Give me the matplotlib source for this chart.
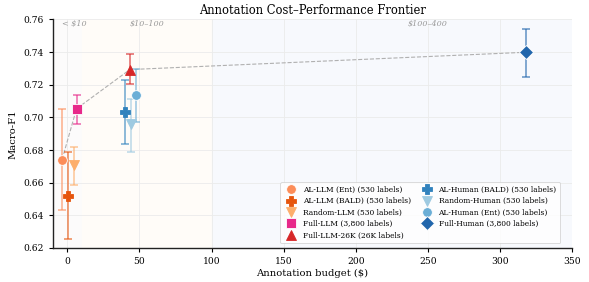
import matplotlib.pyplot as plt

plt.rcParams['font.family'] = 'DejaVu Serif'

# budget ($) as plotted, mean Macro-F1 and error bar ends
names = ['AL-LLM (Ent) (530 labels)', 'AL-LLM (BALD) (530 labels)', 'Random-LLM (530 labels)',
         'Full-LLM (3,800 labels)', 'Full-LLM-26K (26K labels)',
         'AL-Human (BALD) (530 labels)', 'Random-Human (530 labels)',
         'AL-Human (Ent) (530 labels)', 'Full-Human (3,800 labels)']
budget = [-3.7, 0.5, 4.6, 6.3, 43.3, 40.0, 44.0, 47.9, 318.0]
f1 = [0.6742, 0.652, 0.6711, 0.7053, 0.7293, 0.7031, 0.6957, 0.7135, 0.7399]
f1_low = [0.6435, 0.6253, 0.6587, 0.6961, 0.7207, 0.6838, 0.6785, 0.6973, 0.7250]
f1_high = [0.7050, 0.6790, 0.6818, 0.7139, 0.7389, 0.7227, 0.7115, 0.7299, 0.7543]
markers = ['o', 'P', 'v', 's', '^', 'P', 'v', 'o', 'D']
colors = ['#fc8d59', '#e6550d', '#fdae6b', '#e7298a', '#d62728',
          '#3182bd', '#9ecae1', '#6baed6', '#2166ac']

frontier = [0, 3, 4, 8]

fig = plt.figure(figsize=(5.89, 2.82), dpi=100)
ax = fig.add_axes([0.09, 0.1206, 0.881, 0.8104])

# cost bands
ax.axvspan(-10, 10, color='#fcfbfb', zorder=0)
ax.axvspan(10, 100, color='#fffcf8', zorder=0)
ax.axvspan(100, 400, color='#f7f9fd', zorder=0)
for xc, txt in [(5, '< $10'), (55, '$10\u2013100'), (250, '$100\u2013400')]:
    ax.text(xc, 0.7575, txt, ha='center', va='center', fontsize=5.8,
            style='italic', color='#999999')

ax.plot([budget[i] for i in frontier], [f1[i] for i in frontier],
        ls='--', color='#b0b0b0', lw=0.8, zorder=2)

for i in range(len(names)):
    err = [[f1[i] - f1_low[i]], [f1_high[i] - f1[i]]]
    ax.errorbar(budget[i], f1[i], yerr=err, fmt='none', ecolor=colors[i],
                alpha=0.7, capsize=3, elinewidth=1.1, capthick=1.1, zorder=3)
    ax.plot(budget[i], f1[i], marker=markers[i], color=colors[i], ls='none',
            markersize=7, label=names[i], zorder=4,
            markeredgecolor='white' if markers[i] in ('o', 's', 'D') else colors[i],
            markeredgewidth=0.6)

ax.set_xlim(-10, 350)
ax.set_ylim(0.62, 0.76)
ax.set_yticks([0.62, 0.64, 0.66, 0.68, 0.70, 0.72, 0.74, 0.76])
ax.yaxis.set_major_formatter(plt.FormatStrFormatter('%.2f'))
ax.grid(True, color='#ebebeb', lw=0.6, zorder=1)
ax.set_axisbelow(True)
for s in ['top', 'right']:
    ax.spines[s].set_visible(False)
for s in ['left', 'bottom']:
    ax.spines[s].set_color('#222222')
    ax.spines[s].set_linewidth(1.0)
ax.tick_params(labelsize=6.6, length=3, width=0.8)

ax.set_xlabel('Annotation budget ($)', fontsize=7.2, labelpad=2)
ax.set_ylabel('Macro-F1', fontsize=7.2)
ax.set_title('Annotation Cost\u2013Performance Frontier', fontsize=8.3, pad=4)

leg = ax.legend(loc='lower right', ncol=2, fontsize=5.4, frameon=True,
                handletextpad=0.6, columnspacing=1.0, labelspacing=0.45,
                borderpad=0.5, bbox_to_anchor=(0.985, 0.005))
leg.get_frame().set_edgecolor('#cccccc')
leg.get_frame().set_linewidth(0.6)

plt.savefig('out.png', dpi=100)
plt.close()
